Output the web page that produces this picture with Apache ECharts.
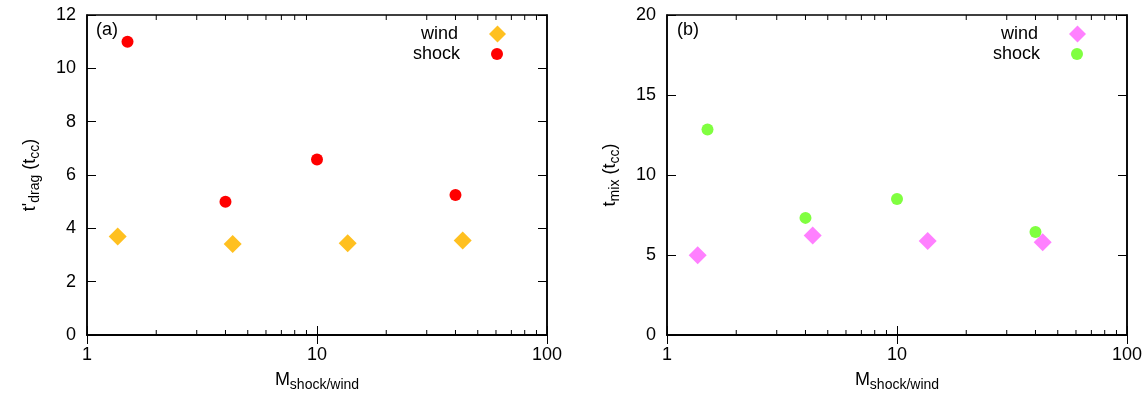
<!DOCTYPE html>
<html>
<head>
<meta charset="utf-8">
<script src="https://cdn.jsdelivr.net/npm/echarts@6/dist/echarts.min.js"></script>
<style>
  html, body { margin: 0; padding: 0; background: #fff; }
  #main { width: 1147px; height: 395px; }
</style>
</head>
<body>
<div id="main"></div>
<script>
// Mach numbers (x) for each run
const windMach = [1.36, 4.3, 13.6, 43]
const shockMach = [1.5, 4, 10, 40]

// (a) t'_drag in t_cc
const dragWind = [3.69, 3.41, 3.44, 3.54]
const dragShock = [11.0, 5.0, 6.58, 5.25]

// (b) t_mix in t_cc
const mixWind = [4.98, 6.22, 5.88, 5.8]
const mixShock = [12.85, 7.32, 8.5, 6.44]

// log-axis minor tick values
const minorTicks = [2, 3, 4, 5, 6, 7, 8, 9, 20, 30, 40, 50, 60, 70, 80, 90]

const font = 'Liberation Sans'
const pairs = (xs, ys) => xs.map((x, i) => [x, ys[i]])

const chart = echarts.init(document.getElementById('main'))

const grids = [
  { left: 87, top: 15, width: 460, height: 320 },
  { left: 667, top: 15, width: 460, height: 320 },
]

const nameRich = {
  m: { fontSize: 18, fontFamily: font, color: '#000' },
  s: { fontSize: 14, fontFamily: font, color: '#000', padding: [10, 0, 0, 0] },
}

function xAxes(gi) {
  const base = {
    type: 'log', logBase: 10, min: 1, max: 100, gridIndex: gi,
    splitLine: { show: false },
    axisLine: { show: true, lineStyle: { color: '#000', width: 1.5 } },
    axisTick: { show: true, inside: true, length: 9, lineStyle: { color: '#000', width: 1 } },
  }
  return [
    Object.assign({}, base, {
      position: 'bottom',
      axisLabel: { margin: 11, color: '#000', fontSize: 18, fontFamily: font },
      name: '{m|M}{s|shock/wind}',
      nameLocation: 'middle',
      nameGap: 33,
      nameTextStyle: { color: '#000', fontFamily: font, rich: nameRich },
    }),
    Object.assign({}, base, { position: 'top', axisLabel: { show: false } }),
  ]
}

function yAxes(gi, max, interval, name) {
  const base = {
    type: 'value', min: 0, max: max, interval: interval, gridIndex: gi,
    splitLine: { show: false },
    axisLine: { show: true, lineStyle: { color: '#000', width: 1.5 } },
    axisTick: { show: true, inside: true, length: 9, lineStyle: { color: '#000', width: 1 } },
  }
  return [
    Object.assign({}, base, {
      position: 'left',
      axisLabel: { margin: 11, color: '#000', fontSize: 18, fontFamily: font },
      name: name,
      nameLocation: 'middle',
      nameGap: 45,
      nameTextStyle: { color: '#000', fontFamily: font, rich: nameRich },
    }),
    Object.assign({}, base, { position: 'right', axisLabel: { show: false } }),
  ]
}

function minorSeries(gi) {
  return {
    type: 'custom',
    xAxisIndex: gi * 2,
    yAxisIndex: gi * 2,
    silent: true,
    clip: false,
    data: minorTicks.map((v) => [v, 0]),
    renderItem: (params, api) => {
      const cs = params.coordSys
      const x = api.coord([api.value(0), 0])[0]
      const yb = cs.y + cs.height
      const yt = cs.y
      return {
        type: 'group',
        children: [
          { type: 'line', shape: { x1: x, y1: yb, x2: x, y2: yb - 5 }, style: { stroke: '#000', lineWidth: 1 } },
          { type: 'line', shape: { x1: x, y1: yt, x2: x, y2: yt + 5 }, style: { stroke: '#000', lineWidth: 1 } },
        ],
      }
    },
  }
}

function scatter(name, gi, data, symbol, size, color) {
  return {
    name: name, type: 'scatter', xAxisIndex: gi * 2, yAxisIndex: gi * 2,
    data: data, symbol: symbol, symbolSize: size,
    itemStyle: { color: color, opacity: 1 },
  }
}

function legend(name, right, top, icon, size) {
  return {
    data: [name], orient: 'vertical', right: right, top: top, align: 'right',
    icon: icon, itemWidth: size, itemHeight: size,
    formatter: (n) => n.split('-')[0],
    textStyle: { color: '#000', fontSize: 18, fontFamily: font, padding: [0, 26, 0, 0] },
    selectedMode: false,
  }
}

const titleStyle = { fontSize: 18, fontWeight: 'normal', fontFamily: font, color: '#000' }

const option = {
  animation: false,
  backgroundColor: '#fff',
  title: [
    { text: '(a)', left: 96, top: 21, textStyle: titleStyle, padding: 0 },
    { text: '(b)', left: 677, top: 21, textStyle: titleStyle, padding: 0 },
  ],
  legend: [
    legend('wind-a', 636, 20, 'diamond', 17),
    legend('shock-a', 639, 40, 'circle', 12),
    legend('wind-b', 56, 20, 'diamond', 17),
    legend('shock-b', 59, 40, 'circle', 12),
  ],
  grid: grids.map((g) => Object.assign({
    show: true, borderColor: '#000', borderWidth: 1.5, backgroundColor: 'transparent',
    containLabel: false, outerBoundsMode: 'none',
  }, g)),
  xAxis: xAxes(0).concat(xAxes(1)),
  yAxis: yAxes(0, 12, 2, "{m|t'}{s|drag}{m| (t}{s|cc}{m|)}").concat(yAxes(1, 20, 5, '{m|t}{s|mix}{m| (t}{s|cc}{m|)}')),
  series: [
    minorSeries(0),
    minorSeries(1),
    scatter('wind-a', 0, pairs(windMach, dragWind), 'diamond', 18, '#ffc020'),
    scatter('shock-a', 0, pairs(shockMach, dragShock), 'circle', 12, '#ff0000'),
    scatter('wind-b', 1, pairs(windMach, mixWind), 'diamond', 18, '#ff80ff'),
    scatter('shock-b', 1, pairs(shockMach, mixShock), 'circle', 12, '#80ff40'),
  ],
}

chart.setOption(option)
</script>
</body>
</html>
